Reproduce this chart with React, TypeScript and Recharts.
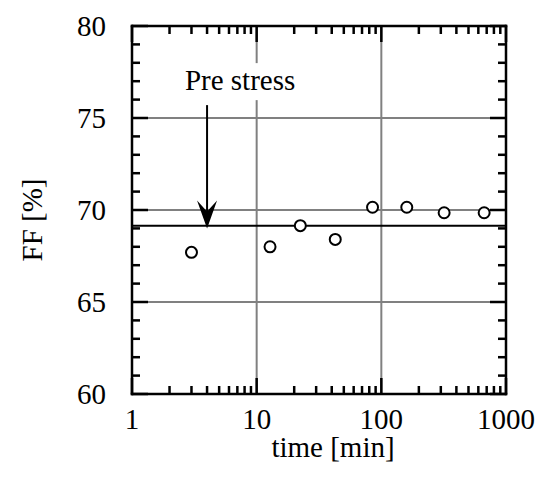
import React from 'react';
import { ScatterChart, Scatter, XAxis, YAxis, ReferenceLine, Label } from 'recharts';

// measured values
const times = [3, 12.8, 22.4, 42.7, 85, 160, 319, 668];
const ffValues = [67.7, 68.0, 69.15, 68.4, 70.15, 70.15, 69.85, 69.85];
const preStressFF = 69.15;

// axes
const majorX = [1, 10, 100, 1000];
const xTicks = [1, 2, 3, 4, 5, 6, 7, 8, 9, 10, 20, 30, 40, 50, 60, 70, 80, 90, 100, 200, 300, 400, 500, 600, 700, 800, 900, 1000];
const majorY = [60, 65, 70, 75, 80];
const yTicks = [60, 61, 62, 63, 64, 65, 66, 67, 68, 69, 70, 71, 72, 73, 74, 75, 76, 77, 78, 79, 80];
const gridX = [10, 100];
const gridY = [65, 70, 75];

// annotation
const arrowTime = 4;
const arrowTop = 75.7;
const arrowTip = 69.0;
const arrowText = 'Pre stress';

const data = times.map((t, i) => ({ t, ff: ffValues[i] }));

const FONT = "'Liberation Serif', 'Times New Roman', serif";
const FS = 29;
const MAJOR = 16;
const MINOR = 8;
const SW = 2.5;
const PLOT_W = 374;
const PLOT_H = 368;

const textStyle = { fontFamily: FONT, fontSize: FS, fill: '#000' };

// bottom axis tick, also draws the matching tick on the top edge
const XTick = (props: any) => {
  const { x, y, payload } = props;
  const major = majorX.includes(payload.value);
  const len = major ? MAJOR : MINOR;
  const top = y - PLOT_H;
  return (
    <g>
      <line x1={x} y1={y} x2={x} y2={y - len} stroke="#000" strokeWidth={SW} />
      <line x1={x} y1={top} x2={x} y2={top + len} stroke="#000" strokeWidth={SW} />
      {major && (
        <text x={x} y={y + 25} textAnchor="middle" dominantBaseline="central" style={textStyle}>
          {payload.value}
        </text>
      )}
    </g>
  );
};

// left axis tick, also draws the matching tick on the right edge
const YTick = (props: any) => {
  const { x, y, payload } = props;
  const major = majorY.includes(payload.value);
  const len = major ? MAJOR : MINOR;
  const right = x + PLOT_W;
  return (
    <g>
      <line x1={x} y1={y} x2={x + len} y2={y} stroke="#000" strokeWidth={SW} />
      <line x1={right} y1={y} x2={right - len} y2={y} stroke="#000" strokeWidth={SW} />
      {major && (
        <text x={x - 26} y={y} textAnchor="end" dominantBaseline="central" style={textStyle}>
          {payload.value}
        </text>
      )}
    </g>
  );
};

const ArrowShape = (props: any) => {
  const { x1, y1, y2 } = props;
  return (
    <g>
      <rect x={x1 - 28} y={y1 - 42} width={122} height={37} fill="#fff" />
      <text x={x1 + 33} y={y1 - 15} textAnchor="middle" style={textStyle}>
        {arrowText}
      </text>
      <line x1={x1} y1={y1} x2={x1} y2={y2 - 12} stroke="#000" strokeWidth={2} />
      <path d={`M${x1},${y2} L${x1 - 10},${y2 - 28} L${x1},${y2 - 17} L${x1 + 10},${y2 - 28} Z`} fill="#000" />
    </g>
  );
};

const frameLine = { stroke: '#000', strokeWidth: SW, strokeLinecap: 'square' as const };

export default function App() {
  return (
    <div style={{ position: 'absolute', left: 0, top: 0, background: '#fff' }}>
      <ScatterChart width={542} height={487} margin={{ top: 0, right: 0, bottom: 0, left: 0 }}>
        <XAxis
          dataKey="t"
          type="number"
          scale="log"
          domain={[1, 1000]}
          allowDataOverflow
          ticks={xTicks}
          interval={0}
          tick={XTick}
          tickLine={false}
          tickSize={0}
          tickMargin={0}
          axisLine={frameLine}
          height={93}
        >
          <Label
            content={(p: any) => (
              <text
                x={p.viewBox.x + p.viewBox.width / 2 + 14}
                y={p.viewBox.y + 63}
                textAnchor="middle"
                style={textStyle}
              >
                time [min]
              </text>
            )}
          />
        </XAxis>
        <XAxis
          xAxisId="top"
          orientation="top"
          type="number"
          scale="log"
          domain={[1, 1000]}
          allowDataOverflow
          tick={false}
          tickLine={false}
          axisLine={frameLine}
          height={26}
        />
        <YAxis
          dataKey="ff"
          type="number"
          domain={[60, 80]}
          allowDataOverflow
          ticks={yTicks}
          interval={0}
          tick={YTick}
          tickLine={false}
          tickSize={0}
          tickMargin={0}
          axisLine={frameLine}
          width={132}
        >
          <Label
            content={() => (
              <text
                x={32}
                y={220}
                transform="rotate(-90 32 220)"
                textAnchor="middle"
                dominantBaseline="central"
                style={textStyle}
              >
                FF [%]
              </text>
            )}
          />
        </YAxis>
        <YAxis
          yAxisId="right"
          orientation="right"
          type="number"
          domain={[60, 80]}
          allowDataOverflow
          tick={false}
          tickLine={false}
          axisLine={frameLine}
          width={36}
        />
        {gridX.map((v) => (
          <ReferenceLine key={`gx${v}`} x={v} stroke="#808080" strokeWidth={2} />
        ))}
        {gridY.map((v) => (
          <ReferenceLine key={`gy${v}`} y={v} stroke="#808080" strokeWidth={2} />
        ))}
        <ReferenceLine y={preStressFF} stroke="#000" strokeWidth={2} />
        <ReferenceLine
          segment={[
            { x: arrowTime, y: arrowTop },
            { x: arrowTime, y: arrowTip },
          ]}
          shape={ArrowShape}
        />
        <Scatter
          data={data}
          isAnimationActive={false}
          shape={(p: any) => <circle cx={p.cx} cy={p.cy} r={5.5} fill="#fff" stroke="#000" strokeWidth={2} />}
        />
      </ScatterChart>
    </div>
  );
}
